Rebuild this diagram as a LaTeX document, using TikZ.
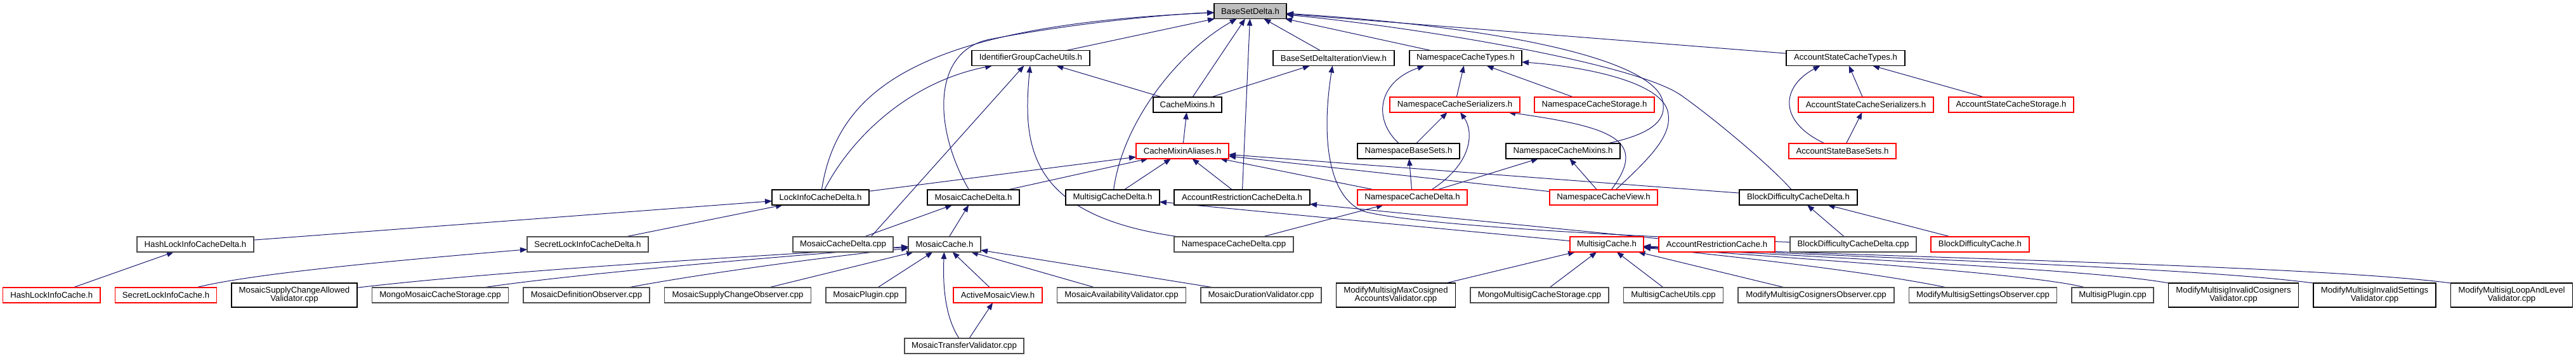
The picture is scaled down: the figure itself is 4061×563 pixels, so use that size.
\documentclass[tikz,border=0pt]{standalone}
\usepackage{fontspec}
\setmainfont{Liberation Sans}
\usetikzlibrary{arrows.meta,positioning,backgrounds}
\definecolor{depblue}{HTML}{191970}
\definecolor{cutred}{HTML}{FF0000}
\newcommand{\dxfont}{\fontsize{13.2}{13}\selectfont}
\tikzset{
  hdr/.style={draw=black, line width=1.2pt, fill=white, font=\dxfont,
              minimum height=24pt, inner xsep=3pt, inner ysep=1pt, outer sep=0pt},
  hdrgrey/.style={hdr, draw=black!70},
  hdrcut/.style={hdr, draw=cutred},
  hdrroot/.style={hdr, fill=black!25},
  twoline/.style={align=center, minimum height=38pt},
  dep/.style={draw=depblue, line width=1pt, -{Triangle[length=11pt,width=8.5pt]}}
}

\begin{document}
\begin{tikzpicture}[x=1pt, y=-1pt, node distance=23.5pt]
  \useasboundingbox (0,0) rectangle (4061,563);
  % root
  \node[hdrroot, minimum width=114pt] (base) at (1971,17.5) {BaseSetDelta.h};
  % first level
  \node[hdr, minimum width=186pt] (igcu) at (1625,91.5) {IdentifierGroupCacheUtils.h};
  \node[hdr, minimum width=191pt] (bsdiv) at (2102.5,91.5) {BaseSetDeltaIterationView.h};
  \node[hdr, minimum width=177pt] (nct) at (2310.5,91.5) {NamespaceCacheTypes.h};
  \node[hdr, minimum width=187pt] (asct) at (2909.5,91.5) {AccountStateCacheTypes.h};
  % second level
  \node[hdr, minimum width=108pt] (cmx) at (1872,165) {CacheMixins.h};
  \node[hdrcut, minimum width=205pt] (ncser) at (2293.5,165) {NamespaceCacheSerializers.h};
  \node[hdrcut, minimum width=189pt] (ncsto) at (2513.5,165) {NamespaceCacheStorage.h};
  \node[hdrcut, minimum width=213pt] (asser) at (2941.5,165) {AccountStateCacheSerializers.h};
  \node[hdrcut, minimum width=197pt] (assto) at (3170.5,165) {AccountStateCacheStorage.h};
  % third level
  \node[hdrcut, minimum width=146pt] (cma) at (1864,238) {CacheMixinAliases.h};
  \node[hdr, minimum width=161pt] (nbs) at (2220.5,238) {NamespaceBaseSets.h};
  \node[hdr, minimum width=180pt] (ncmx) at (2464,238) {NamespaceCacheMixins.h};
  \node[hdrcut, minimum width=169pt] (asbs) at (2904.5,238) {AccountStateBaseSets.h};
  % deltas
  \node[hdr, minimum width=153pt] (licd) at (1293.5,311) {LockInfoCacheDelta.h};
  \node[hdr, minimum width=145pt] (mcd) at (1534.5,311) {MosaicCacheDelta.h};
  \node[hdr, minimum width=148pt] (mscd) at (1754,311) {MultisigCacheDelta.h};
  \node[hdr, minimum width=214pt] (arcd) at (1958,311) {AccountRestrictionCacheDelta.h};
  \node[hdrcut, minimum width=173pt] (ncd) at (2226.5,311) {NamespaceCacheDelta.h};
  \node[hdrcut, minimum width=170pt] (ncv) at (2528,311) {NamespaceCacheView.h};
  \node[hdr, minimum width=186pt] (bdcd) at (2835,311) {BlockDifficultyCacheDelta.h};
  % caches
  \node[hdrgrey, minimum width=184pt] (hlicd) at (308,385) {HashLockInfoCacheDelta.h};
  \node[hdrgrey, minimum width=191pt] (slicd) at (926.5,385) {SecretLockInfoCacheDelta.h};
  \node[hdrgrey, minimum width=158pt] (mcdcpp) at (1329,385) {MosaicCacheDelta.cpp};
  \node[hdrgrey, minimum width=114pt] (mc) at (1489,385) {MosaicCache.h};
  \node[hdrgrey, minimum width=188pt] (ncdcpp) at (1945,385) {NamespaceCacheDelta.cpp};
  \node[hdrcut, minimum width=116pt] (msc) at (2533,385) {MultisigCache.h};
  \node[hdrcut, minimum width=183pt] (arc) at (2706.5,385) {AccountRestrictionCache.h};
  \node[hdrgrey, minimum width=199pt] (bdcdcpp) at (2921.5,385) {BlockDifficultyCacheDelta.cpp};
  \node[hdrcut, minimum width=155pt] (bdc) at (3121.5,385) {BlockDifficultyCache.h};
  % bottom row, left to right
  \node[hdrcut, minimum width=153.5pt] (hlic) at (81.25,465) {HashLockInfoCache.h};
  \node[hdrcut, minimum width=160pt, right=of hlic] (slic) {SecretLockInfoCache.h};
  \node[hdr, twoline, minimum width=198pt, right=of slic] (mscav) {MosaicSupplyChangeAllowed\\Validator.cpp};
  \node[hdrgrey, minimum width=215pt, right=of mscav] (mmcs) {MongoMosaicCacheStorage.cpp};
  \node[hdrgrey, minimum width=199pt, right=of mmcs] (mdo) {MosaicDefinitionObserver.cpp};
  \node[hdrgrey, minimum width=231pt, right=of mdo] (msco) {MosaicSupplyChangeObserver.cpp};
  \node[hdrgrey, minimum width=126pt, right=of msco] (mp) {MosaicPlugin.cpp};
  \node[hdrcut, minimum width=140pt, right=75pt of mp] (amv) {ActiveMosaicView.h};
  \node[hdrgrey, minimum width=203pt, right=of amv] (mav) {MosaicAvailabilityValidator.cpp};
  \node[hdrgrey, minimum width=190pt, right=of mav] (mdv) {MosaicDurationValidator.cpp};
  \node[hdr, twoline, minimum width=188pt, right=of mdv] (mmmc) {ModifyMultisigMaxCosigned\\AccountsValidator.cpp};
  \node[hdrgrey, minimum width=218pt, right=of mmmc] (mmscs) {MongoMultisigCacheStorage.cpp};
  \node[hdrgrey, minimum width=157pt, right=of mmscs] (mscu) {MultisigCacheUtils.cpp};
  \node[hdrgrey, minimum width=246pt, right=of mscu] (mmco) {ModifyMultisigCosignersObserver.cpp};
  \node[hdrgrey, minimum width=233pt, right=of mmco] (mmso) {ModifyMultisigSettingsObserver.cpp};
  \node[hdrgrey, minimum width=129pt, right=of mmso] (mspl) {MultisigPlugin.cpp};
  \node[hdr, twoline, minimum width=205pt, right=of mspl] (mmic) {ModifyMultisigInvalidCosigners\\Validator.cpp};
  \node[hdr, twoline, minimum width=193pt, right=of mmic] (mmis) {ModifyMultisigInvalidSettings\\Validator.cpp};
  \node[hdr, twoline, minimum width=192pt, right=of mmis] (mmll) {ModifyMultisigLoopAndLevel\\Validator.cpp};
  \node[hdrgrey, minimum width=188pt] (mtv) at (1520,545) {MosaicTransferValidator.cpp};

  \begin{scope}[on background layer]
  % into BaseSetDelta.h
  \draw[dep] (igcu) -- (base);
  \draw[dep] (cmx) -- (base);
  \draw[dep] (arcd) -- (base);
  \draw[dep] (bsdiv) -- (base);
  \draw[dep] (nct) -- (base);
  \draw[dep] (asct) -- (base);
  \draw[dep] (licd) .. controls (1320,140) and (1450,40) .. (base);
  \draw[dep] (mcd) .. controls (1470,200) and (1470,80) .. (1560,62)
        .. controls (1700,35) and (1850,22) .. (base);
  \draw[dep] (mscd) .. controls (1770,190) and (1860,80) .. (base);
  \draw[dep] (bdcd) .. controls (2790,260) and (2700,185) .. (2650,150)
        .. controls (2580,101) and (2250,45) .. (base);
  \draw[dep] ([xshift=70pt]ncmx.north) .. controls (2600,212) and (2625,192) .. (2622,165)
        .. controls (2620,100) and (2400,45) .. (base);
  % IdentifierGroupCacheUtils.h, iteration view, mixins
  \draw[dep] (licd) .. controls (1340,220) and (1430,130) .. (igcu);
  \draw[dep] ([xshift=44pt]mcdcpp.north) -- (igcu);
  \draw[dep] (ncdcpp) .. controls (1620,340) and (1612,230) .. (igcu);
  \draw[dep] (cmx) -- (igcu);
  \draw[dep] (cmx) -- (bsdiv);
  \draw[dep] (bdcdcpp) .. controls (2500,370) and (2220,352) .. (2150,333)
        .. controls (2095,312) and (2082,220) .. (bsdiv);
  \draw[dep] (cma) -- (cmx);
  % into CacheMixinAliases.h
  \draw[dep] (licd) -- (cma);
  \draw[dep] (mcd) -- (cma);
  \draw[dep] (mscd) -- (cma);
  \draw[dep] (arcd) -- (cma);
  \draw[dep] (ncd) -- (cma);
  \draw[dep] (ncv) -- (cma);
  \draw[dep] (bdcd) -- (cma);
  % namespace headers
  \draw[dep] ([xshift=-15pt]nbs.north) .. controls (2165,190) and (2170,130) .. ([xshift=-65pt]nct.south);
  \draw[dep] (ncser) -- (nct);
  \draw[dep] (ncsto) -- (nct);
  \draw[dep] ([xshift=19pt]ncv.north) .. controls (2600,250) and (2635,215) .. (2630,180)
        .. controls (2625,130) and (2500,105) .. (nct);
  \draw[dep] (nbs) -- (ncser);
  \draw[dep] ([xshift=30pt]ncd.north) .. controls (2325,255) and (2322,205) .. (ncser);
  \draw[dep] ([xshift=12pt]ncv.north) .. controls (2600,220) and (2540,200) .. (ncser);
  \draw[dep] (ncd) -- (nbs);
  \draw[dep] (ncd) -- (ncmx);
  \draw[dep] (ncv) -- (ncmx);
  \draw[dep] (ncdcpp) -- (ncd);
  % account state headers
  \draw[dep] ([xshift=-28pt]asbs.north) .. controls (2800,190) and (2810,135) .. ([xshift=-40pt]asct.south);
  \draw[dep] (asser) -- (asct);
  \draw[dep] (assto) -- (asct);
  \draw[dep] (asbs) -- (asser);
  % block difficulty, restriction, multisig deltas
  \draw[dep] (bdcdcpp) -- (bdcd);
  \draw[dep] (bdc) -- (bdcd);
  \draw[dep] (arc) -- (arcd);
  \draw[dep] (msc) -- (mscd);
  % lock info
  \draw[dep] (hlicd) -- (licd);
  \draw[dep] (slicd) -- (licd);
  \draw[dep] (hlic) -- (hlicd);
  \draw[dep] (slic) .. controls (400,430) and (650,408) .. (slicd);
  % mosaic
  \draw[dep] (mcdcpp) -- (mcd);
  \draw[dep] (mc) -- (mcd);
  \draw[dep] (mscav) .. controls (800,425) and (1250,400) .. (mc);
  \draw[dep] ([xshift=68pt]mmcs.north) .. controls (900,432) and (1250,402) .. (mc);
  \draw[dep] ([xshift=66pt]mdo.north) .. controls (1100,432) and (1300,405) .. (mc);
  \draw[dep] (msco) -- (mc);
  \draw[dep] (mp) -- (mc);
  \draw[dep] (amv) -- (mc);
  \draw[dep] (mav) -- (mc);
  \draw[dep] (mdv) -- (mc);
  \draw[dep] ([xshift=-8pt]mtv.north) .. controls (1490,500) and (1486,450) .. (mc);
  \draw[dep] (mtv) -- (amv);
  % multisig cache
  \draw[dep] (mmmc) -- (msc);
  \draw[dep] (mmscs) -- (msc);
  \draw[dep] (mscu) -- (msc);
  \draw[dep] (mmco) -- (msc);
  \draw[dep] (mmso) .. controls (2950,428) and (2700,400) .. (msc);
  \draw[dep] ([xshift=-43pt]mspl.north) .. controls (3200,430) and (2800,405) .. (msc);
  \draw[dep] (mmic.north west) .. controls (3300,424) and (2850,405) .. (msc);
  \draw[dep] (mmis.north west) .. controls (3450,420) and (2900,405) .. (msc);
  \draw[dep] (mmll.north west) .. controls (3650,418) and (2950,405) .. (msc);
  \end{scope}
\end{tikzpicture}
\end{document}
